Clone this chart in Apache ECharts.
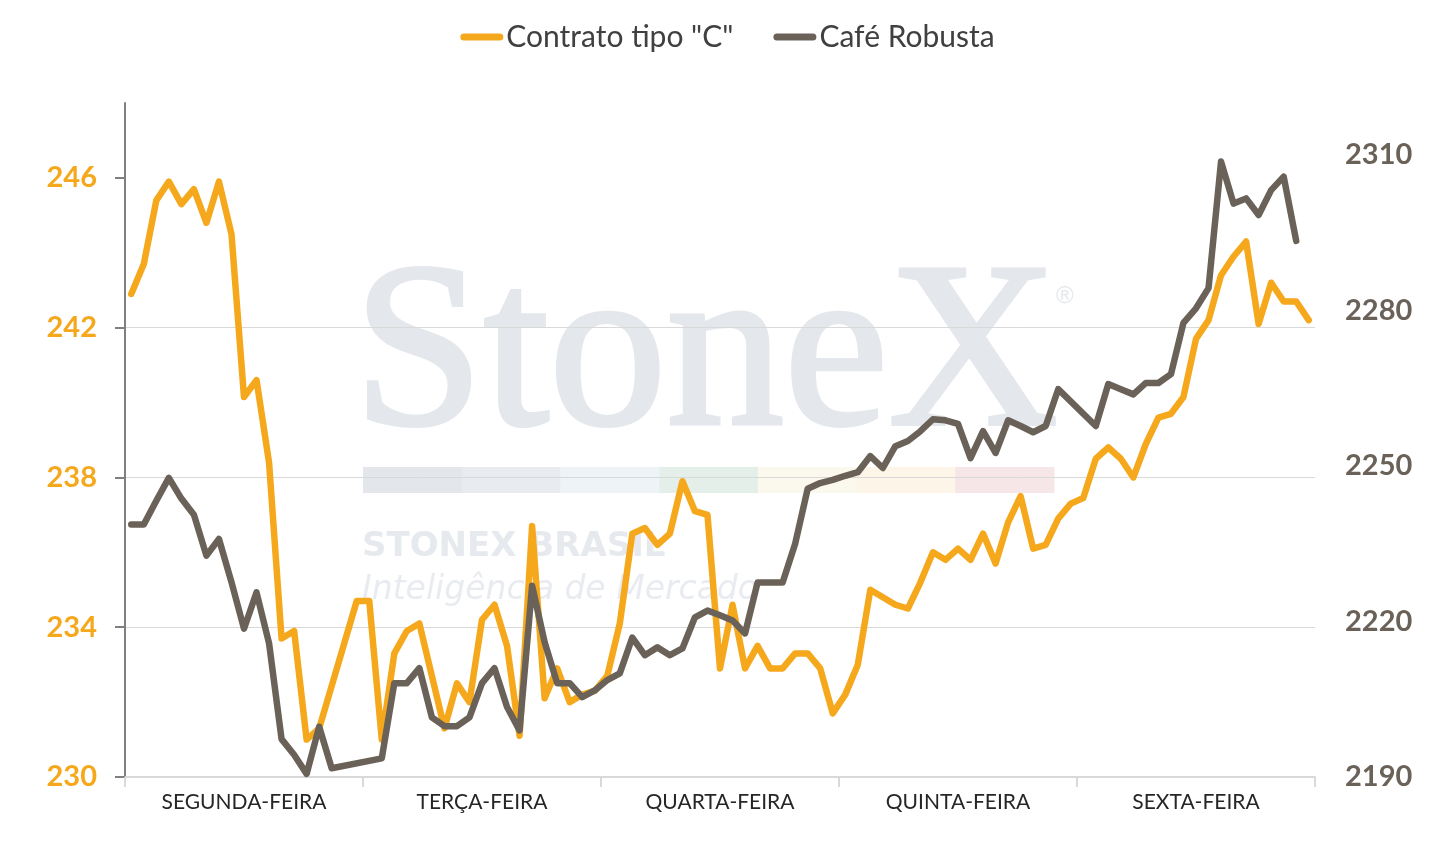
<!DOCTYPE html>
<html>
<head>
<meta charset="utf-8">
<title>Contrato tipo "C" x Café Robusta</title>
<script src="https://cdn.jsdelivr.net/npm/echarts@6/dist/echarts.min.js"></script>
<style>
  html, body { margin: 0; padding: 0; background: #fff; }
  #chart { width: 1455px; height: 842px; }
</style>
</head>
<body>
<div id="chart"></div>
<script>
// dias da semana (eixo x) e número de leituras por dia
const days = ['SEGUNDA-FEIRA', 'TERÇA-FEIRA', 'QUARTA-FEIRA', 'QUINTA-FEIRA', 'SEXTA-FEIRA'];
const pointsPerDay = 19;

// Contrato tipo "C" (eixo esquerdo)
const contratoC = [
  242.9, 243.7, 245.4, 245.9, 245.3, 245.7, 244.8, 245.9, 244.5, 240.15,
  240.6, 238.4, 233.7, 233.9, 231.0, 231.3, null, null, 234.7, 234.7,
  231.0, 233.3, 233.9, 234.1, 232.7, 231.3, 232.5, 232.0, 234.2, 234.6,
  233.5, 231.1, 236.7, 232.1, 232.9, 232.0, 232.2, 232.3, 232.7, 234.1,
  236.5, 236.65, 236.2, 236.5, 237.9, 237.1, 237.0, 232.9, 234.6, 232.9,
  233.5, 232.9, 232.9, 233.3, 233.3, 232.9, 231.7, 232.2, 233.0, 235.0,
  234.8, 234.6, 234.5, 235.2, 236.0, 235.8, 236.1, 235.8, 236.5, 235.7,
  236.8, 237.5, 236.1, 236.2, 236.9, 237.3, 237.45, 238.5, 238.8, 238.5,
  238.0, 238.9, 239.6, 239.7, 240.15, 241.7, 242.2, 243.4, 243.9, 244.3,
  242.1, 243.2, 242.7, 242.7, 242.2
];

// Café Robusta (eixo direito)
const cafeRobusta = [
  2238.7, 2238.7, 2243.3, 2247.7, 2243.7, 2240.6, 2232.7, 2235.9, 2227.6, 2218.6,
  2225.6, 2215.8, 2197.3, 2194.3, 2190.6, 2199.7, 2191.7, null, null, null,
  2193.6, 2208.1, 2208.1, 2211.0, 2201.5, 2199.8, 2199.8, 2201.5, 2208.1, 2211.0,
  2203.5, 2199.0, 2226.9, 2216.0, 2208.1, 2208.1, 2205.4, 2206.7, 2208.7, 2210.0,
  2216.9, 2213.5, 2215.0, 2213.5, 2214.8, 2220.8, 2222.1, 2221.2, 2220.2, 2217.7,
  2227.5, 2227.5, 2227.5, 2235.0, 2245.6, 2246.7, 2247.3, 2248.1, 2248.8, 2251.9,
  2249.6, 2253.8, 2254.8, 2256.7, 2259.0, 2258.8, 2258.1, 2251.5, 2256.7, 2252.5,
  2258.8, 2257.7, 2256.5, 2257.7, 2264.8, null, null, 2257.7, 2265.8, 2264.8,
  2263.8, 2266.0, 2266.0, 2267.7, 2277.6, 2280.4, 2284.3, 2308.7, 2300.6, 2301.6,
  2298.4, 2303.2, 2305.8, 2293.4, null
];

// ticks dos eixos
const leftTicks = [230, 234, 238, 242, 246];
const rightTicks = [2190, 2220, 2250, 2280, 2310];

const categories = [];
days.forEach(function (d) {
  for (let i = 1; i <= pointsPerDay; i++) categories.push(d + ' ' + i);
});

const ORANGE = '#F5A81C';
const GRAY = '#6A6258';
const FONT = 'Lato';

// faixa colorida da marca d'água
const stripeColors = ['#e3e6eb', '#e8ecf0', '#eef3f8', '#e5efea', '#fbf9ee', '#fdf5e8', '#f7e6e8'];
const stripes = stripeColors.map(function (c, k) {
  return {
    type: 'rect', z: -1, silent: true,
    shape: { x: 363 + k * 98.7, y: 467, width: 99.2, height: 26 },
    style: { fill: c }
  };
});

let myChart = echarts.init(document.getElementById('chart'));

const option = {
  animation: false,
  backgroundColor: '#ffffff',
  textStyle: { fontFamily: FONT },
  legend: {
    top: 17,
    left: 'center',
    itemWidth: 43,
    itemHeight: 7,
    itemGap: 40,
    icon: 'path://M3.5,0 H39.5 A3.5,3.5 0 0 1 39.5,7 H3.5 A3.5,3.5 0 0 1 3.5,0 Z',
    textStyle: { fontSize: 30, color: '#404040', fontFamily: FONT, padding: [0, 0, 0, -2] },
    data: ['Contrato tipo "C"', 'Café Robusta']
  },
  graphic: {
    elements: [
      {
        type: 'text', z: -1, silent: true,
        style: {
          x: 353, y: 362, text: 'StoneX', verticalAlign: 'middle',
          font: '235px "Liberation Serif"', fill: '#e4e7ec',
          stroke: '#e4e7ec', lineWidth: 4
        }
      },
      {
        type: 'text', z: -1, silent: true,
        style: { x: 1056, y: 296, text: '®', verticalAlign: 'middle', font: '24px "Liberation Sans"', fill: '#e4e7ec' }
      },
      {
        type: 'text', z: -1, silent: true,
        style: {
          x: 362, y: 547, text: 'STONEX BRASIL', verticalAlign: 'middle',
          font: 'bold 34px "DejaVu Sans"', fill: '#e6e9ee'
        }
      },
      {
        type: 'text', z: -1, silent: true,
        style: {
          x: 362, y: 590, text: 'Inteligência de Mercado', verticalAlign: 'middle',
          font: 'italic 200 33px "DejaVu Sans"', fill: '#e8ebf0'
        }
      }
    ].concat(stripes)
  },
  grid: { left: 125, right: 140, top: 103, bottom: 65 },
  xAxis: {
    type: 'category',
    data: categories,
    boundaryGap: true,
    axisLine: { lineStyle: { color: '#d9d9d9', width: 2 } },
    axisTick: {
      show: true,
      interval: function (index) { return index % pointsPerDay === 0; },
      length: 10,
      lineStyle: { color: '#d9d9d9', width: 2 }
    },
    axisLabel: {
      interval: function (index) { return index % pointsPerDay === Math.floor(pointsPerDay / 2); },
      formatter: function (value) { return value.split(' ')[0]; },
      fontSize: 21,
      color: '#262626',
      margin: 15
    },
    splitLine: { show: false }
  },
  yAxis: [
    {
      type: 'value',
      min: 230,
      max: 248,
      interval: 4,
      position: 'left',
      axisLine: { show: true, lineStyle: { color: '#808080', width: 2 } },
      axisTick: { show: true, length: 10, customValues: leftTicks, lineStyle: { color: '#808080', width: 2 } },
      axisLabel: { color: ORANGE, fontSize: 29, fontWeight: 'bold', margin: 28, customValues: leftTicks },
      splitLine: { show: true, showMaxLine: false, lineStyle: { color: '#d9d9d9', width: 1 } }
    },
    {
      type: 'value',
      min: 2190,
      max: 2320,
      interval: 30,
      position: 'right',
      axisLine: { show: false },
      axisTick: { show: false },
      axisLabel: {
        color: GRAY, fontSize: 29, fontWeight: 'bold', margin: 30, customValues: rightTicks,
        formatter: function (v) { return String(v); }
      },
      splitLine: { show: false }
    }
  ],
  series: [
    {
      name: 'Contrato tipo "C"',
      type: 'line',
      yAxisIndex: 0,
      data: contratoC,
      showSymbol: false,
      connectNulls: true,
      itemStyle: { color: ORANGE },
      lineStyle: { color: ORANGE, width: 6.5, cap: 'round', join: 'round' }
    },
    {
      name: 'Café Robusta',
      type: 'line',
      yAxisIndex: 1,
      data: cafeRobusta,
      showSymbol: false,
      connectNulls: true,
      itemStyle: { color: GRAY },
      lineStyle: { color: GRAY, width: 6.5, cap: 'round', join: 'round' }
    }
  ]
};

myChart.setOption(option);
</script>
</body>
</html>
